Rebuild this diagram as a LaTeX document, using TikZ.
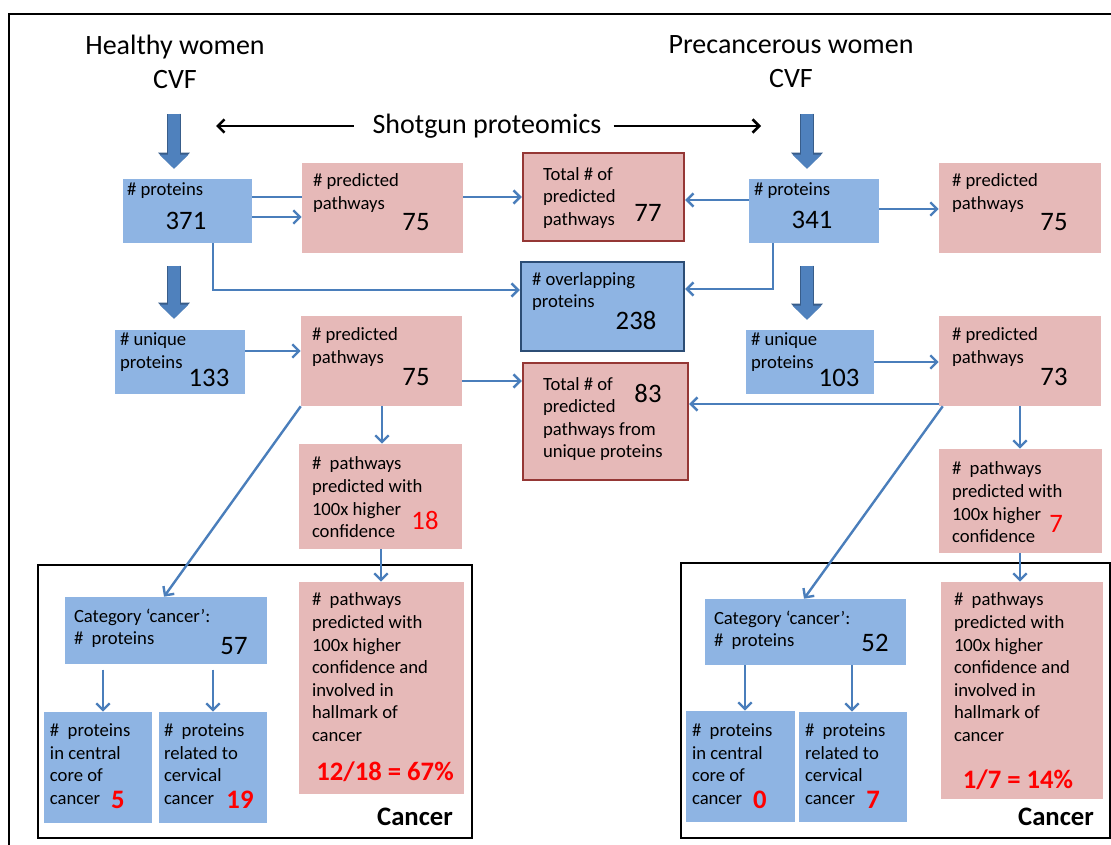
\documentclass[tikz,border=0pt]{standalone}
\usepackage{fontspec}
\setmainfont{Carlito}
\usetikzlibrary{arrows.meta, positioning, fit, calc, backgrounds}

\definecolor{boxblue}{HTML}{8EB4E3}
\definecolor{boxpink}{HTML}{E6B9B8}
\definecolor{linkblue}{HTML}{4A7EBB}
\definecolor{fatblue}{HTML}{4F81BD}
\definecolor{fatedge}{HTML}{385D8A}
\definecolor{totred}{HTML}{953735}
\definecolor{ovlblue}{HTML}{2C4D75}

\begin{document}
\begin{tikzpicture}[
    x=0.75pt, y=-0.75pt,
    bluebox/.style={fill=boxblue, inner sep=0pt},
    pinkbox/.style={fill=boxpink, inner sep=0pt},
    totbox/.style={pinkbox, draw=totred, line width=1.8pt},
    ovlbox/.style={bluebox, draw=ovlblue, line width=1.8pt},
    lbl/.style={anchor=north west, inner sep=0pt, align=left, font=\fontsize{14pt}{16.9pt}\selectfont},
    num/.style={inner sep=0pt, font=\fontsize{20pt}{24pt}\selectfont},
    rnum/.style={num, text=red},
    bnum/.style={inner sep=0pt, text=red, font=\fontsize{20pt}{24pt}\selectfont\bfseries},
    headtxt/.style={anchor=north, align=center, inner sep=0pt, font=\fontsize{21pt}{25.5pt}\selectfont},
    cancerframe/.style={draw=black, line width=1.4pt, inner sep=0pt},
    link/.style={draw=linkblue, line width=1.8pt, -{Straight Barb[length=5pt,width=10pt]}},
    shotarrow/.style={draw=black, line width=1.9pt, -{Straight Barb[length=5pt,width=10pt]}},
    fat/.style={draw=fatblue, line width=9pt, -{Triangle[length=10.5pt,width=21pt]},
        preaction={draw=fatedge, line width=10.5pt, -{Triangle[length=12pt,width=23pt]}}}
]
    \useasboundingbox (0,0) rectangle (1111,845);
    \draw[line width=2pt] (9,845) -- (9,14) -- (1111,14);

    % headings
    \node[headtxt] (hTitle) at (175,35) {Healthy women\\CVF};
    \node[headtxt] (pTitle) at (791,35) {Precancerous women\\CVF};
    \node[inner sep=0pt, font=\fontsize{21pt}{25pt}\selectfont] (shot) at (487,126) {Shotgun proteomics};
    \coordinate (shotL) at (216,126);
    \coordinate (shotR) at (761,126);

    % cancer frames
    \node[cancerframe, fit={(38,565) (472,838)}] (hCancer) {};
    \node[cancerframe, fit={(681,563) (1110,838)}] (pCancer) {};

    % first row
    \node[bluebox, fit={(123,179) (252,243)}] (hProt) {};
    \node[pinkbox, fit={(302,163) (463,253)}] (hPath) {};
    \node[totbox, fit={(523,153) (684,241)}] (tot1) {};
    \node[bluebox, fit={(749,179) (879,243)}] (pProt) {};
    \node[pinkbox, fit={(939,163) (1101,253)}] (pPath) {};
    \node[ovlbox, fit={(521,262) (684,351)}] (ovl) {};

    % second row
    \node[bluebox, fit={(115,330) (245,394)}] (hUniq) {};
    \node[pinkbox, fit={(301,316) (462,406)}] (hPath2) {};
    \node[totbox, fit={(523,363) (688,480)}] (tot2) {};
    \node[bluebox, fit={(746,330) (874,394)}] (pUniq) {};
    \node[pinkbox, fit={(939,316) (1101,406)}] (pPath2) {};
    \node[pinkbox, fit={(299,444) (462,549)}] (hConf) {};
    \node[pinkbox, fit={(939,449) (1102,553)}] (pConf) {};

    % cancer boxes
    \node[bluebox, fit={(65,597) (267,664)}] (hCat) {};
    \node[bluebox, fit={(44,712) (152,823)}] (hCore) {};
    \node[bluebox, fit={(159,712) (267,823)}] (hCerv) {};
    \node[pinkbox, fit={(299,582) (464,794)}] (hHall) {};
    \node[bluebox, fit={(705,599) (906,665)}] (pCat) {};
    \node[bluebox, fit={(686,711) (795,822)}] (pCore) {};
    \node[bluebox, fit={(799,712) (907,822)}] (pCerv) {};
    \node[pinkbox, fit={(941,582) (1103,799)}] (pHall) {};

    % box texts
    \node[lbl] at ([shift={(4,4)}]hProt.north west) {\# proteins};
    \node[num] at (186,221) {371};
    \node[lbl] at ([shift={(11,11)}]hPath.north west) {\# predicted\\pathways};
    \node[num] at (416,222) {75};
    \node[lbl] at ([shift={(21,15)}]tot1.north west) {Total \# of\\predicted\\pathways};
    \node[num] at (648,213) {77};
    \node[lbl] at ([shift={(5,4)}]pProt.north west) {\# proteins};
    \node[num] at (812,220) {341};
    \node[lbl] at ([shift={(13,11)}]pPath.north west) {\# predicted\\pathways};
    \node[num] at (1054,222) {75};
    \node[lbl] at ([shift={(12,11)}]ovl.north west) {\# overlapping\\proteins};
    \node[num] at (636,320) {238};

    \node[lbl] at ([shift={(5,3)}]hUniq.north west) {\# unique\\proteins};
    \node[num] at (209,378) {133};
    \node[lbl] at ([shift={(11,12)}]hPath2.north west) {\# predicted\\pathways};
    \node[num] at (416,377) {75};
    \node[lbl] at ([shift={(21,15)}]tot2.north west) {Total \# of\\predicted\\pathways from\\unique proteins};
    \node[num] at (648,393) {83};
    \node[lbl] at ([shift={(5,3)}]pUniq.north west) {\# unique\\proteins};
    \node[num] at (839,378) {103};
    \node[lbl] at ([shift={(13,12)}]pPath2.north west) {\# predicted\\pathways};
    \node[num] at (1054,377) {73};
    \node[lbl] at ([shift={(13,13)}]hConf.north west) {\#~ pathways\\predicted with\\100x higher\\confidence};
    \node[rnum] at (425,520) {18};
    \node[lbl] at ([shift={(13,13)}]pConf.north west) {\#~ pathways\\predicted with\\100x higher\\confidence};
    \node[rnum] at (1056,524) {7};

    \node[lbl] at ([shift={(9,12)}]hCat.north west) {Category ‘cancer’:\\\#~ proteins};
    \node[num] at (234,646) {57};
    \node[lbl] at ([shift={(6,12)}]hCore.north west) {\#~ proteins\\in central\\core of\\cancer};
    \node[bnum] at (118,800) {5};
    \node[lbl] at ([shift={(5,12)}]hCerv.north west) {\#~ proteins\\related to\\cervical\\cancer};
    \node[bnum] at (240,800) {19};
    \node[lbl] at ([shift={(13,11)}]hHall.north west) {\#~ pathways\\predicted with\\100x higher\\confidence and\\involved in\\hallmark of\\cancer};
    \node[bnum] at (385,772) {12/18 = 67\%};
    \node[font=\fontsize{20pt}{24pt}\selectfont\bfseries, inner sep=0pt] at (415,817) {Cancer};

    \node[lbl] at ([shift={(9,12)}]pCat.north west) {Category ‘cancer’:\\\#~ proteins};
    \node[num] at (875,643) {52};
    \node[lbl] at ([shift={(6,13)}]pCore.north west) {\#~ proteins\\in central\\core of\\cancer};
    \node[bnum] at (760,800) {0};
    \node[lbl] at ([shift={(6,12)}]pCerv.north west) {\#~ proteins\\related to\\cervical\\cancer};
    \node[bnum] at (873,800) {7};
    \node[lbl] at ([shift={(13,11)}]pHall.north west) {\#~ pathways\\predicted with\\100x higher\\confidence and\\involved in\\hallmark of\\cancer};
    \node[bnum] at (1018,780) {1/7 = 14\%};
    \node[font=\fontsize{20pt}{24pt}\selectfont\bfseries, inner sep=0pt] at (1056,817) {Cancer};

    % shotgun arrows
    \draw[shotarrow, shorten <=14pt] (shot.west) -- (shotL);
    \draw[shotarrow, shorten <=9pt] (shot.east) -- (shotR);

    % fat arrows
    \draw[fat] ($(hProt.north)+(-13.5,-65)$) -- ($(hProt.north)+(-13.5,-10)$);
    \draw[fat] ($(pProt.north)+(-7,-65)$) -- ($(pProt.north)+(-7,-10)$);
    \draw[fat] ($(hUniq.north)+(-6,-64)$) -- ($(hUniq.north)+(-6,-11)$);
    \draw[fat] ($(pUniq.north)+(-3,-64)$) -- ($(pUniq.north)+(-3,-10)$);

    % connectors
    \begin{pgfonlayer}{background}
        \draw[link] (hProt.east |- tot1.west) -- (tot1.west);
    \end{pgfonlayer}
    \draw[link] (hProt.east |- 0,217) -- (hPath.west |- 0,217);
    \draw[link] (pProt.west |- 0,200) -- (tot1.east |- 0,200);
    \draw[link] (pProt.east |- 0,209) -- (pPath.west |- 0,209);
    \draw[link] (hProt.south -| 213,0) |- (ovl.west |- 0,290);
    \draw[link] (pProt.south -| 773,0) |- (ovl.east |- 0,289);
    \draw[link] (hUniq.east |- 0,351) -- (hPath2.west |- 0,351);
    \draw[link] (hPath2.east |- 0,381) -- (tot2.west |- 0,381);
    \draw[link] (pUniq.east |- 0,362) -- (pPath2.west |- 0,362);
    \draw[link] (pPath2.west |- 0,404) -- (tot2.east |- 0,404);
    \draw[link] (hPath2.south -| 382,0) -- (hConf.north -| 382,0);
    \draw[link] (hConf.south -| 381,0) -- (hHall.north -| 381,0);
    \draw[link] (hPath2.south west) -- (hCat.north -| 164,0);
    \draw[link] (pPath2.south -| 1020,0) -- (pConf.north -| 1020,0);
    \draw[link] (pConf.south -| 1020,0) -- (pHall.north -| 1020,0);
    \draw[link] ([xshift=3pt]pPath2.south west) -- (pCat.north -| 804,0);
    \draw[link, shorten <=4pt] (hCat.south -| 103,0) -- (hCore.north -| 103,0);
    \draw[link, shorten <=4pt] (hCat.south -| 213,0) -- (hCerv.north -| 213,0);
    \draw[link] (pCat.south -| 745,0) -- (pCore.north -| 745,0);
    \draw[link] (pCat.south -| 852,0) -- (pCerv.north -| 852,0);
\end{tikzpicture}
\end{document}
